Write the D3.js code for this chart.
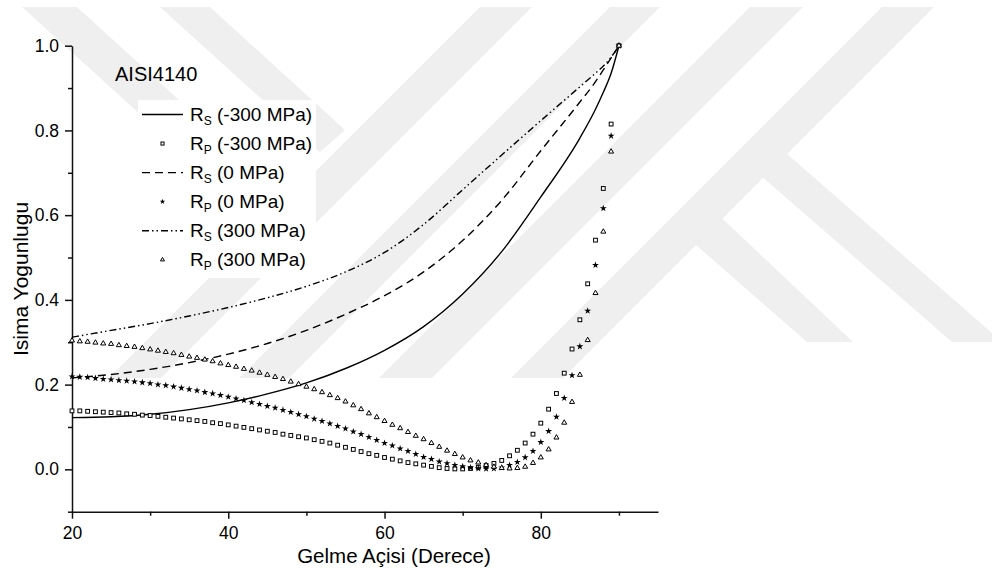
<!DOCTYPE html>
<html><head><meta charset="utf-8">
<script src="https://cdn.jsdelivr.net/npm/d3@7"></script>
<style>
body{margin:0;background:#fff}
svg{display:block}
text{font-family:"Liberation Sans",Arial,Helvetica,sans-serif;fill:#000}
</style>
</head><body>
<svg id="chart" width="992" height="576"></svg>
<script>
// ---------- data ----------
const rpAngles = [20,21,22,23,24,25,26,27,28,29,30,31,32,33,34,35,36,37,38,39,40,41,42,43,44,45,46,47,48,49,50,51,52,53,54,55,56,57,58,59,60,61,62,63,64,65,66,67,68,69,70,71,72,73,74,75,76,77,78,79,80,81,82,83,84,85,86,87,88,89,90];
const rpNeg300 = [0.138,0.138,0.137,0.136,0.135,0.134,0.133,0.131,0.130,0.128,0.127,0.125,0.123,0.121,0.119,0.117,0.115,0.113,0.110,0.108,0.105,0.102,0.099,0.096,0.093,0.090,0.087,0.083,0.080,0.077,0.074,0.070,0.066,0.062,0.057,0.052,0.047,0.042,0.037,0.033,0.028,0.024,0.020,0.016,0.013,0.010,0.007,0.004,0.002,0.001,0.001,0.002,0.005,0.009,0.014,0.021,0.032,0.045,0.062,0.083,0.109,0.142,0.179,0.227,0.284,0.353,0.438,0.541,0.663,0.815,1.0];
const rp0 = [0.219,0.218,0.217,0.215,0.213,0.212,0.210,0.209,0.207,0.205,0.203,0.200,0.198,0.195,0.192,0.189,0.186,0.182,0.179,0.175,0.171,0.167,0.163,0.158,0.154,0.149,0.145,0.140,0.135,0.130,0.125,0.119,0.114,0.108,0.102,0.096,0.089,0.083,0.076,0.069,0.062,0.056,0.049,0.043,0.036,0.029,0.024,0.018,0.014,0.010,0.007,0.004,0.002,0.001,0.002,0.004,0.010,0.017,0.028,0.043,0.064,0.090,0.124,0.168,0.222,0.290,0.374,0.482,0.616,0.787,1.0];
const rp300 = [0.304,0.302,0.301,0.299,0.297,0.296,0.293,0.291,0.289,0.286,0.283,0.280,0.277,0.274,0.270,0.266,0.263,0.259,0.255,0.250,0.246,0.242,0.237,0.233,0.228,0.223,0.218,0.213,0.207,0.201,0.195,0.189,0.182,0.175,0.168,0.160,0.151,0.142,0.132,0.123,0.114,0.105,0.097,0.088,0.079,0.071,0.062,0.053,0.044,0.036,0.028,0.021,0.016,0.010,0.006,0.003,0.002,0.003,0.006,0.015,0.028,0.047,0.075,0.110,0.159,0.223,0.305,0.416,0.561,0.750,1.0];

const rsAngles = [20,25,30,35,40,45,50,55,60,65,70,75,80,85,87,88,89,90];
const rsNeg300 = [0.122,0.124,0.130,0.141,0.157,0.178,0.204,0.238,0.281,0.337,0.414,0.514,0.643,0.782,0.850,0.890,0.935,1.0];
const rs0      = [0.216,0.224,0.236,0.252,0.272,0.297,0.328,0.366,0.410,0.466,0.540,0.635,0.752,0.867,0.915,0.943,0.971,1.0];
const rs300    = [0.312,0.328,0.344,0.362,0.382,0.405,0.432,0.466,0.512,0.578,0.660,0.742,0.823,0.903,0.935,0.952,0.973,1.0];

const xMajorTicks = [20,40,60,80];
const xMinorTicks = [30,50,70,90];
const yMajorTicks = [0.0,0.2,0.4,0.6,0.8,1.0];
const yMinorTicks = [-0.1,0.1,0.3,0.5,0.7,0.9];

const legendSubs   = ["S","P","S","P","S","P"];
const legendLabels = ["(-300 MPa)","(-300 MPa)","(0 MPa)","(0 MPa)","(300 MPa)","(300 MPa)"];
const legendKinds  = ["solid","square","dash","star","dashdot","triangle"];

const xTitle = "Gelme Açisi (Derece)";
const yTitle = "Isima Yogunlugu";
const chartNote = "AISI4140";

// ---------- background watermark (decorative) ----------
const watermarkShapes = [
  [[22,7],[77,7],[278,190],[251,215]],
  [[160,7],[210,7],[345,130],[320,152]],
  [[480,7],[532,7],[161,378],[109,378]],
  [[610,7],[660,7],[289,378],[239,378]],
  [[750,7],[803,7],[432,378],[379,378]],
  [[882,7],[934,7],[563,378],[511,378]],
  [[752,168],[778,146],[992,333],[992,342],[952,342]],
  [[680,231],[708,205],[853,342],[807,342]]
];

// ---------- drawing ----------
const svg = d3.select("#chart");
svg.append("rect").attr("width",992).attr("height",576).attr("fill","#fff");

svg.append("g").selectAll("path").data(watermarkShapes).join("path")
  .attr("d", d => "M" + d.map(p => p.join(",")).join("L") + "Z")
  .attr("fill", "#efefef");

const x = d3.scaleLinear().domain([20,95]).range([72,658]);
const y = d3.scaleLinear().domain([-0.1,1.0]).range([511.7,45.7]);

const axisStyle = g => {
  g.selectAll("path,line").attr("stroke","#111").attr("stroke-width",1.5);
  g.selectAll("text").attr("font-size",17.5).attr("fill","#000")
    .attr("font-family",'"Liberation Sans",Arial,sans-serif');
};

// x axis
svg.append("g").attr("transform","translate(0,511.7)")
  .call(d3.axisBottom(x).tickValues(xMajorTicks).tickSize(7).tickSizeOuter(0).tickPadding(8).tickFormat(d3.format("d")))
  .call(axisStyle);
svg.append("g").attr("transform","translate(0,511.7)")
  .call(d3.axisBottom(x).tickValues(xMinorTicks).tickSize(4).tickFormat(""))
  .call(g => g.select(".domain").remove())
  .call(axisStyle);

// y axis
svg.append("g").attr("transform","translate(72,0)")
  .call(d3.axisLeft(y).tickValues(yMajorTicks).tickSize(7).tickSizeOuter(0).tickPadding(6).tickFormat(d3.format(".1f")))
  .call(axisStyle);
svg.append("g").attr("transform","translate(72,0)")
  .call(d3.axisLeft(y).tickValues(yMinorTicks).tickSize(4).tickFormat(""))
  .call(g => g.select(".domain").remove())
  .call(axisStyle);

// titles
svg.append("text").attr("x",394).attr("y",562.5).attr("text-anchor","middle")
  .attr("font-size",20.5).text(xTitle);
svg.append("text").attr("transform","translate(28,279) rotate(-90)").attr("text-anchor","middle")
  .attr("font-size",21).text(yTitle);

// lines
const dashes = {solid:null, dash:"8,5", dashdot:"7,3,1.5,3,1.5,3"};
const lineGen = d3.line().x(d => x(d[0])).y(d => y(d[1])).curve(d3.curveMonotoneX);
const rsSeries = [
  {vals: rsNeg300, kind:"solid"},
  {vals: rs0, kind:"dash"},
  {vals: rs300, kind:"dashdot"}
];
svg.append("g").selectAll("path").data(rsSeries).join("path")
  .attr("d", s => lineGen(rsAngles.map((a,i) => [a, s.vals[i]])))
  .attr("fill","none").attr("stroke","#000").attr("stroke-width",1.4)
  .attr("stroke-dasharray", s => dashes[s.kind]);

// markers
function drawMarker(g, kind, cx, cy, scale) {
  if (kind === "square") {
    const s = 3.8*scale;
    g.append("rect").attr("x",cx-s/2).attr("y",cy-s/2).attr("width",s).attr("height",s)
      .attr("fill","#fff").attr("stroke","#000").attr("stroke-width",1);
  } else if (kind === "star") {
    g.append("path").attr("d", d3.symbol(d3.symbolStar, 15*scale*scale)())
      .attr("transform",`translate(${cx},${cy})`).attr("fill","#000");
  } else if (kind === "triangle") {
    g.append("path").attr("d", d3.symbol(d3.symbolTriangle, 11*scale*scale)())
      .attr("transform",`translate(${cx},${cy})`).attr("fill","#fff")
      .attr("stroke","#000").attr("stroke-width",1);
  }
}
const rpSeries = [
  {vals: rpNeg300, kind:"square"},
  {vals: rp0, kind:"star"},
  {vals: rp300, kind:"triangle"}
];
const mg = svg.append("g");
rpSeries.forEach(s => {
  rpAngles.forEach((a,i) => drawMarker(mg, s.kind, x(a), y(s.vals[i]), 1));
});

// note
svg.append("text").attr("x",115).attr("y",81).attr("font-size",20).text(chartNote);

// legend
const lg = svg.append("g");
lg.append("rect").attr("x",138).attr("y",100).attr("width",178).attr("height",178).attr("fill","#fff");
legendKinds.forEach((k,i) => {
  const cy = 114.5 + i*29.05;
  if (k === "solid" || k === "dash" || k === "dashdot") {
    lg.append("line").attr("x1",142).attr("x2",183).attr("y1",cy).attr("y2",cy)
      .attr("stroke","#000").attr("stroke-width",1.4).attr("stroke-dasharray",dashes[k]);
  } else {
    drawMarker(lg, k, 162.5, cy, 0.8);
  }
  const t = lg.append("text").attr("x",190).attr("y",cy+6.5).attr("font-size",19);
  t.append("tspan").text("R");
  t.append("tspan").attr("font-size",12).attr("dy",4).text(legendSubs[i]);
  t.append("tspan").attr("dy",-4).text(" " + legendLabels[i]);
});
</script>
</body></html>
